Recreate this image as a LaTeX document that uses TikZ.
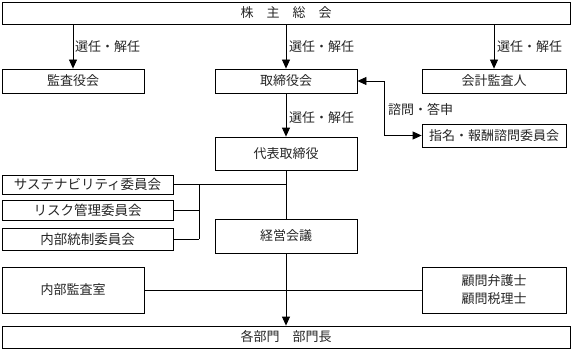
\documentclass[tikz,border=0pt]{standalone}
\usepackage{fontspec}
\setmainfont{Noto Sans CJK JP}
\usetikzlibrary{arrows.meta}
\begin{document}
\begin{tikzpicture}[x=1pt,y=-1pt,
  box/.style={draw=black, line width=0.8pt, rectangle, inner sep=0pt, fill=white, align=center,
    font=\fontsize{13}{18}\selectfont, text=black!85},
  lbl/.style={inner sep=0pt, anchor=west, font=\fontsize{13}{15}\selectfont, text=black!85},
  conn/.style={line width=0.8pt, draw=black},
  arr/.style={conn, -{Triangle[width=8pt,length=9pt]}},
  dbl/.style={conn, {Triangle[width=8pt,length=9pt]}-{Triangle[width=8pt,length=9pt]}}]
\useasboundingbox (0,0) rectangle (572,350);
% boxes
\node[box, minimum width=568pt, minimum height=22pt] (kabu) at (286,13) {株　主　総　会};
\node[box, minimum width=142pt, minimum height=24pt] (kansa) at (73,81) {監査役会};
\node[box, minimum width=142pt, minimum height=24pt] (tori) at (286,81) {取締役会};
\node[box, minimum width=144pt, minimum height=24pt] (kaikei) at (494,81) {会計監査人};
\node[box, minimum width=142pt, minimum height=33pt] (daihyo) at (286,153.5) {代表取締役};
\node[box, minimum width=144pt, minimum height=23pt] (shimei) at (494,135.5) {指名・報酬諮問委員会};
\node[box, minimum width=171pt, minimum height=19pt, font=\fontsize{13.5}{16}\selectfont] (sus) at (87.5,184.5) {サステナビリティ委員会};
\node[box, minimum width=171pt, minimum height=20pt, font=\fontsize{13.5}{16}\selectfont] (risk) at (87.5,210) {リスク管理委員会};
\node[box, minimum width=171pt, minimum height=22pt, font=\fontsize{13.5}{16}\selectfont] (naibu) at (87.5,239) {内部統制委員会};
\node[box, minimum width=142pt, minimum height=34pt] (keiei) at (286,236) {経営会議};
\node[box, minimum width=142pt, minimum height=46pt] (kansashitsu) at (73,290) {内部監査室};
\node[box, minimum width=144pt, minimum height=46pt] (komon) at (494,290) {顧問弁護士\\顧問税理士};
\node[box, minimum width=568pt, minimum height=22pt] (kakubu) at (286,337) {各部門　部門長};
% connectors
\draw[arr] (kabu.south -| kansa) -- (kansa.north);
\draw[arr] (kabu.south -| tori) -- (tori.north);
\draw[arr] (kabu.south -| kaikei) -- (kaikei.north);
\draw[arr] (tori.south) -- (daihyo.north);
\coordinate (bend) at (384,81);
\draw[dbl] (tori.east) -- (bend) |- (shimei.west);
\draw[conn] (daihyo.south) -- (keiei.north);
\coordinate (brk) at (199,184.5);
\draw[conn] (sus.east) -- (sus.east -| daihyo);
\draw[conn] (risk.east) -- (risk.east -| brk);
\draw[conn] (naibu.east) -- (naibu.east -| brk);
\draw[conn] (brk) -- (naibu.east -| brk);
\draw[conn] (kansashitsu.east) -- (komon.west);
\draw[arr] (keiei.south) -- (kakubu.north);
% labels
\node[lbl] (l1) at (75,47) {選任・解任};
\node[lbl] (l2) at (289,47) {選任・解任};
\node[lbl] (l3) at (497,47) {選任・解任};
\node[lbl] (l4) at (289,118) {選任・解任};
\node[lbl] (l5) at (388,109) {諮問・答申};
\end{tikzpicture}
\end{document}
